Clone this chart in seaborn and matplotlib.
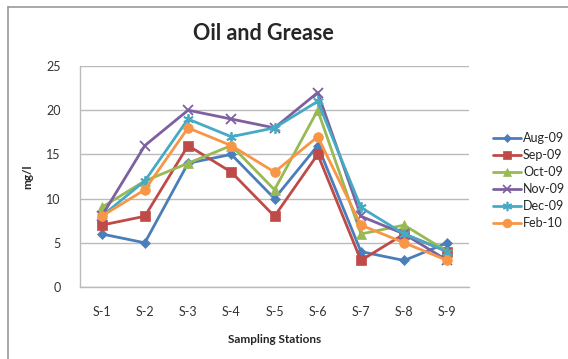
import matplotlib
matplotlib.use("Agg")
import matplotlib.pyplot as plt
from matplotlib.lines import Line2D
import seaborn as sns
import pandas as pd

# Oil and grease concentration (mg/l) per sampling station and month
stations = ["S-1", "S-2", "S-3", "S-4", "S-5", "S-6", "S-7", "S-8", "S-9"]
aug_09 = [6, 5, 14, 15, 10, 16, 4, 3, 5]
sep_09 = [7, 8, 16, 13, 8, 15, 3, 6, 4]
oct_09 = [9, 12, 14, 16, 11, 20, 6, 7, 4]
nov_09 = [8, 16, 20, 19, 18, 22, 8, 6, 3]
dec_09 = [8, 12, 19, 17, 18, 21, 9, 6, 4]
feb_10 = [8, 11, 18, 16, 13, 17, 7, 5, 3]

months = ["Aug-09", "Sep-09", "Oct-09", "Nov-09", "Dec-09", "Feb-10"]
series = [aug_09, sep_09, oct_09, nov_09, dec_09, feb_10]
y_ticks = [0, 5, 10, 15, 20, 25]

colors = ["#4A7EBB", "#BE4B48", "#98B954", "#7D60A0", "#46AAC5", "#F79646"]
markers = ["D", "s", "^", "x", (6, 2, 0), "o"]
sizes = [5.0, 6.5, 6.5, 7.0, 7.5, 7.0]

rows = []
for m, vals in zip(months, series):
    for i, v in enumerate(vals):
        rows.append({"station": i, "month": m, "value": v})
df = pd.DataFrame(rows)

sns.set_style("white")
plt.rcParams["font.family"] = ["Lato", "DejaVu Sans"]

fig = plt.figure(figsize=(5.68, 3.59), dpi=100)
ax = fig.add_axes([80 / 568, 1 - 287 / 359, 389 / 568, 221 / 359])

for m, c, mk, ms in zip(months, colors, markers, sizes):
    sub = df[df["month"] == m]
    sns.lineplot(data=sub, x="station", y="value", ax=ax, color=c,
                 marker=mk, markersize=ms, linewidth=2.0, label=m,
                 markeredgecolor=c, markeredgewidth=1.3 if mk in ("x", (6, 2, 0)) else 0.5,
                 legend=False)

ax.set_xlim(-0.5, 8.5)
ax.set_ylim(0, 25)
ax.set_xticks(range(len(stations)))
ax.set_xticklabels(stations)
ax.set_yticks(y_ticks)
ax.tick_params(axis="both", length=0, labelsize=9, labelcolor="#333333")
ax.tick_params(axis="x", pad=14)
ax.tick_params(axis="y", pad=14)
ax.yaxis.grid(True, color="#BBBBBB", linewidth=1.0)
ax.set_axisbelow(True)
for side in ("top", "right"):
    ax.spines[side].set_visible(False)
for side in ("left", "bottom"):
    ax.spines[side].set_color("#BBBBBB")
    ax.spines[side].set_linewidth(1.0)

ax.set_xlabel("Sampling Stations", fontsize=8.5, fontweight="bold", labelpad=11)
ax.set_ylabel("mg/l", fontsize=8.5, fontweight="bold", labelpad=9)

fig.text(263 / 568, 1 - 33 / 359, "Oil and Grease", fontsize=15.5, fontweight="bold",
         ha="center", va="center")

handles = [Line2D([0], [0], color=c, marker=mk, markersize=ms * 0.9, linewidth=2.0,
                  markeredgecolor=c,
                  markeredgewidth=1.2 if mk in ("x", (6, 2, 0)) else 0.5)
           for c, mk, ms in zip(colors, markers, sizes)]
fig.legend(handles, months, loc="upper left", bbox_to_anchor=(488 / 568, 1 - 127 / 359),
           frameon=False, fontsize=9, handlelength=2.2, handletextpad=0.2,
           labelspacing=0.4, borderaxespad=0)

# Chart frame (left and top edges)
fig.add_artist(Line2D([8 / 568, 8 / 568], [0, 1 - 7 / 359], color="#999999",
                      linewidth=1.2, transform=fig.transFigure))
fig.add_artist(Line2D([8 / 568, 1], [1 - 7 / 359, 1 - 7 / 359], color="#999999",
                      linewidth=1.2, transform=fig.transFigure))

fig.savefig("out.png", dpi=100)
